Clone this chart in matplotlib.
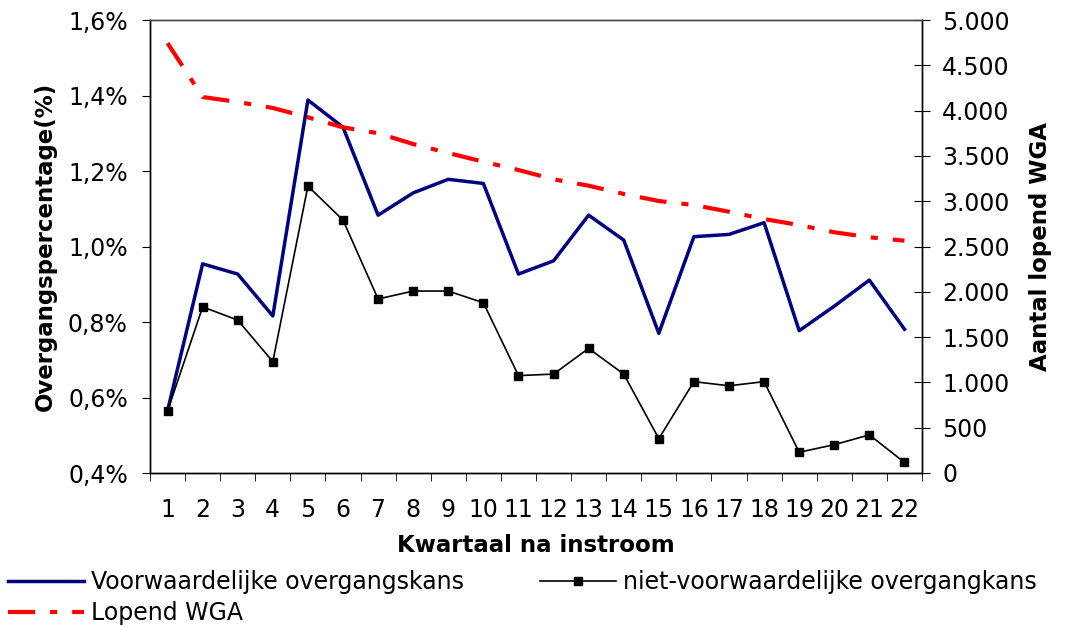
import matplotlib.pyplot as plt
from matplotlib.ticker import FuncFormatter, MultipleLocator

# kwartalen na instroom
kwartaal = list(range(1, 23))

# overgangskansen (%)
voorwaardelijk = [0.565, 0.954, 0.927, 0.816, 1.388, 1.316, 1.083, 1.142, 1.178, 1.167, 0.927,
                  0.962, 1.083, 1.017, 0.770, 1.026, 1.032, 1.063, 0.777, 0.842, 0.911, 0.781]
niet_voorwaardelijk = [0.564, 0.840, 0.805, 0.695, 1.160, 1.070, 0.861, 0.882, 0.882, 0.851, 0.658,
                       0.662, 0.730, 0.662, 0.491, 0.642, 0.631, 0.642, 0.455, 0.475, 0.501, 0.428]

# aantal lopende WGA-uitkeringen
lopend_wga = [4745, 4150, 4095, 4029, 3926, 3815, 3750, 3631, 3532, 3436, 3344,
              3242, 3171, 3080, 3002, 2958, 2884, 2803, 2737, 2657, 2602, 2564]

plt.rcParams['font.family'] = ['DejaVu Sans']

fig = plt.figure(figsize=(10.65, 6.26), dpi=100)
ax = fig.add_axes([150 / 1065, 1 - 473 / 626, (922 - 150) / 1065, (473 - 20) / 626])
ax2 = ax.twinx()

l1, = ax.plot(kwartaal, voorwaardelijk, color='#000080', lw=2.5,
              label='Voorwaardelijke overgangskans', zorder=3)
l2, = ax.plot(kwartaal, niet_voorwaardelijk, color='black', lw=1.2, marker='s', markersize=5.5,
              label='niet-voorwaardelijke overgangkans', zorder=3)
l3, = ax2.plot(kwartaal, lopend_wga, color='red', lw=3.0, dashes=(6.5, 3.6, 1.7, 3.6),
               label='Lopend WGA')

ax.set_xlim(0.5, 22.5)
ax.set_ylim(0.4, 1.6)
ax.yaxis.set_major_locator(MultipleLocator(0.2))
ax.yaxis.set_major_formatter(FuncFormatter(lambda v, p: f'{v:.1f}%'.replace('.', ',')))
ax2.set_ylim(0, 5000)
ax2.yaxis.set_major_locator(MultipleLocator(500))
ax2.yaxis.set_major_formatter(FuncFormatter(lambda v, p: f'{int(v):,}'.replace(',', '.')))

# categorie-as: labels in het midden, streepjes ertussen
ax.set_xticks(kwartaal)
ax.set_xticklabels([str(k) for k in kwartaal])
ax.set_xticks([k + 0.5 for k in range(0, 23)], minor=True)
ax.tick_params(axis='x', which='major', length=0, pad=18, labelsize=17)
ax.tick_params(axis='x', which='minor', length=6, direction='out')
ax.tick_params(axis='y', length=6, direction='out', pad=10, labelsize=17)
ax2.tick_params(axis='y', labelsize=17, length=11, direction='inout', pad=9)

for a in (ax, ax2):
    for s in a.spines.values():
        s.set_linewidth(1.0)
        s.set_color('black')
ax.spines['top'].set_color('#444444')
ax2.spines['top'].set_color('#444444')

ax.set_xlabel('Kwartaal na instroom', fontsize=16.5, fontweight='bold', labelpad=9)
ax.set_ylabel('Overgangspercentage(%)', fontsize=16.5, fontweight='bold', labelpad=8)
ax2.set_ylabel('Aantal lopend WGA', fontsize=16.5, fontweight='bold', labelpad=14)

leg1 = fig.legend(handles=[l1, l3], loc='upper left', bbox_to_anchor=(8 / 1065, 1 - 570 / 626),
                  frameon=False, fontsize=17, handlelength=3.2, handletextpad=0.3,
                  borderaxespad=0, borderpad=0, labelspacing=0.3)
leg2 = fig.legend(handles=[l2], loc='upper left', bbox_to_anchor=(540 / 1065, 1 - 570 / 626),
                  frameon=False, fontsize=17, handlelength=3.2, handletextpad=0.3,
                  borderaxespad=0, borderpad=0)

fig.savefig('out.png', dpi=100)
